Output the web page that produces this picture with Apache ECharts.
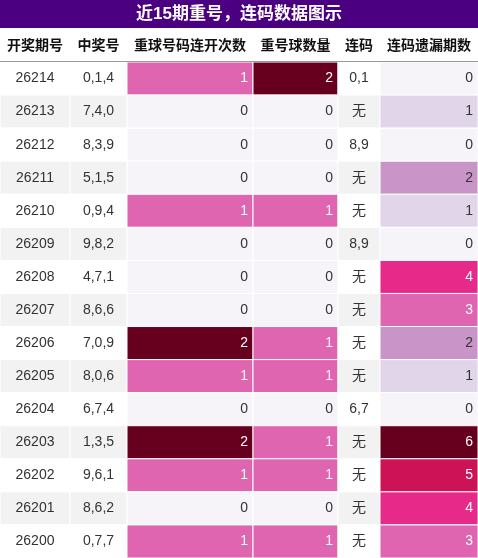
<!DOCTYPE html><html><head><meta charset="utf-8">
<script src="https://cdn.jsdelivr.net/npm/echarts@6/dist/echarts.min.js"></script>
<style>html,body{margin:0;padding:0;background:#fff}#c{width:478px;height:558px}</style></head><body><div id="c"></div>
<script>
const headers=['开奖期号','中奖号','重球号码连开次数','重号球数量','连码','连码遗漏期数'];
const periods=['26214','26213','26212','26211','26210','26209','26208','26207','26206','26205','26204','26203','26202','26201','26200'];
const numbers=['0,1,4','7,4,0','8,3,9','5,1,5','0,9,4','9,8,2','4,7,1','8,6,6','7,0,9','8,0,6','6,7,4','1,3,5','9,6,1','8,6,2','0,7,7'];
const repeatRuns=[1,0,0,0,1,0,0,0,2,1,0,2,1,0,1];
const repeatCount=[2,0,0,0,1,0,0,0,1,1,0,1,1,0,1];
const consec=['0,1','无','8,9','无','无','8,9','无','无','无','无','6,7','无','无','无','无'];
const missing=[0,1,0,2,1,0,4,3,2,1,0,6,5,4,3];

const edges=[0,70,127,253,338,380,478];
const puRd=['#f7f4f9','#e1d5ea','#c994c7','#df65b0','#e7298a','#ce1256','#67001f'];
const c3=['#f7f4f9','#df65b0','#67001f'];
const font='"Liberation Sans","Noto Sans CJK SC",sans-serif';
const data=[];
periods.forEach((p,r)=>{
  const bg=r%2===0?'#ffffff':'#f2f2f2';
  data.push([0,r,p,bg,'#333','center']);
  data.push([1,r,numbers[r],bg,'#333','center']);
  data.push([2,r,String(repeatRuns[r]),c3[repeatRuns[r]],repeatRuns[r]>0?'#fff':'#333','right']);
  data.push([3,r,String(repeatCount[r]),c3[repeatCount[r]],repeatCount[r]>0?'#fff':'#333','right']);
  data.push([4,r,consec[r],bg,'#333','center']);
  data.push([5,r,String(missing[r]),puRd[missing[r]],missing[r]>=3?'#fff':'#333','right']);
});
const chart=echarts.init(document.getElementById('c'));
const graphic=[{type:'rect',shape:{x:0,y:0,width:478,height:28},style:{fill:'#4b0082'}},
 {type:'text',x:239,y:14,style:{text:'近15期重号，连码数据图示',fill:'#fff',font:'bold 17px '+font,textAlign:'center',textVerticalAlign:'middle'}}];
headers.forEach((h,i)=>graphic.push({type:'text',x:(edges[i]+edges[i+1])/2,y:46,style:{text:h,fill:'#111',font:'bold 14px '+font,textAlign:'center',textVerticalAlign:'middle'}}));
graphic.push({type:'rect',shape:{x:0,y:61,width:478,height:1},style:{fill:'#333'}});
chart.setOption({animation:false,graphic,
 grid:{left:0,right:0,top:62,bottom:0},
 xAxis:{type:'value',min:0,max:478,show:false},
 yAxis:{type:'category',data:periods,inverse:true,show:false},
 series:[{type:'custom',data,renderItem:(params,api)=>{
   const c=api.value(0),r=api.value(1);
   const d=data[params.dataIndex];
   const p0=api.coord([edges[c],r]),p1=api.coord([edges[c+1],r]);
   const h=api.size([0,1])[1];
   const y=p0[1]-h/2;
   const tx=d[5]==='right'?p1[0]-5:(p0[0]+p1[0])/2;
   return {type:'group',children:[
    {type:'rect',shape:{x:p0[0],y:y,width:p1[0]-p0[0],height:h},style:{fill:d[3],stroke:'#fff',lineWidth:1}},
    {type:'text',x:tx,y:p0[1],style:{text:d[2],fill:d[4],font:'14px '+font,textAlign:d[5],textVerticalAlign:'middle'}}]};
 }}]});
</script></body></html>
